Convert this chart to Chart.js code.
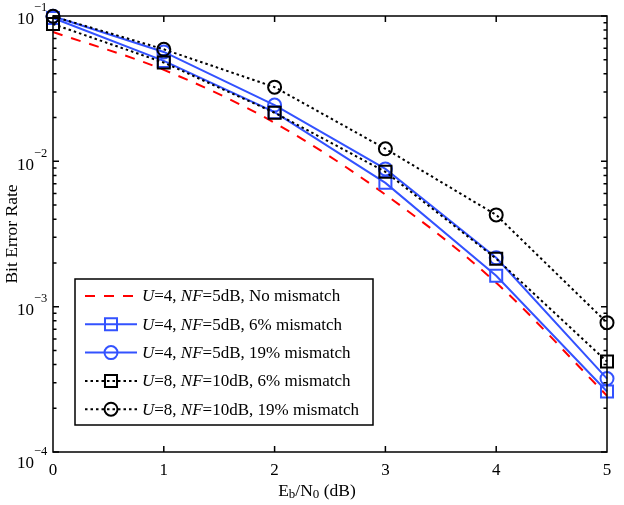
<!DOCTYPE html>
<html>
<head>
<meta charset="utf-8">
<script src="https://cdn.jsdelivr.net/npm/chart.js@4.4.0/dist/chart.umd.min.js"></script>
<style>
   html, body { margin: 0; padding: 0; background: #ffffff; }
   canvas { display: block; }
</style>
</head>
<body>
<canvas id="berChart" width="624" height="505"></canvas>
<script>
const ebN0 = [0, 1, 2, 3, 4, 5];
const xTickValues = [0, 1, 2, 3, 4, 5];
const yTickExponents = [-1, -2, -3, -4];

const berNoMismatch = [0.0776, 0.0426, 0.0184, 0.0059, 0.00146, 0.000244];
const berU4Mismatch6 = [0.0969, 0.0491, 0.0218, 0.00711, 0.00163, 0.000261];
const berU4Mismatch19 = [0.0995, 0.0566, 0.0244, 0.00887, 0.00217, 0.00032];
const berU8Mismatch6 = [0.088, 0.0478, 0.0216, 0.00847, 0.00214, 0.000419];
const berU8Mismatch19 = [0.0995, 0.059, 0.0324, 0.0122, 0.00428, 0.000776];

const seriesLabels = [
   "U=4, NF=5dB, No mismatch",
   "U=4, NF=5dB, 6% mismatch",
   "U=4, NF=5dB, 19% mismatch",
   "U=8, NF=10dB, 6% mismatch",
   "U=8, NF=10dB, 19% mismatch",
];

const SERIF = "'Liberation Serif', 'Times New Roman', serif";
const RED = "#ff0000";
const BLUE = "#3352ff";
const BLACK = "#000000";

function makeDataset(label, values, color, dash, pointStyle, radius, order)
{
   return {
      label: label,
      data: ebN0.map(function(x, i) { return { x: x, y: values[i] }; }),
      borderColor: color,
      borderWidth: 2,
      borderDash: dash,
      pointStyle: pointStyle,
      pointRadius: radius,
      pointBorderWidth: 2,
      pointBorderColor: color,
      pointBackgroundColor: "rgba(0,0,0,0)",
      cubicInterpolationMode: pointStyle ? "default" : "monotone",
      fill: false,
      clip: false,
      order: order,
   };
}

function drawText(ctx, parts, x, y)
{
   // parts: [text, italic, fontSize, dy]
   parts.forEach(function(p)
   {
      ctx.font = (p[1] ? "italic " : "") + p[2] + "px " + SERIF;
      ctx.fillText(p[0], x, y + (p[3] || 0));
      x += ctx.measureText(p[0]).width;
   });
}

function partsWidth(ctx, parts)
{
   let w = 0;
   parts.forEach(function(p)
   {
      ctx.font = (p[1] ? "italic " : "") + p[2] + "px " + SERIF;
      w += ctx.measureText(p[0]).width;
   });
   return w;
}

function labelParts(label, size)
{
   return label.split(/(U|NF)(?==)/).map(function(s, i)
   {
      return [s, i % 2 === 1, size];
   });
}

function drawMarker(ctx, style, radius, x, y)
{
   ctx.beginPath();
   if (style === "rect")
   {
      const h = radius * Math.SQRT1_2;
      ctx.rect(x - h, y - h, 2 * h, 2 * h);
   }
   else
   {
      ctx.arc(x, y, radius, 0, Math.PI * 2);
   }
   ctx.stroke();
}

const axesPlugin = {
   id: "matlabAxes",
   afterDatasetsDraw(chart)
   {
      const ctx = chart.ctx;
      const area = chart.chartArea;
      const xs = chart.scales.x;
      const ys = chart.scales.y;

      ctx.save();
      ctx.strokeStyle = BLACK;
      ctx.lineWidth = 1.5;
      ctx.setLineDash([]);
      ctx.strokeRect(area.left, area.top, area.right - area.left, area.bottom - area.top);

      ctx.beginPath();
      xTickValues.slice(1, -1).forEach(function(v)
      {
         const px = xs.getPixelForValue(v);
         ctx.moveTo(px, area.bottom);
         ctx.lineTo(px, area.bottom - 6);
         ctx.moveTo(px, area.top);
         ctx.lineTo(px, area.top + 6);
      });
      for (let e = -4; e <= -1; e++)
      {
         for (let m = 1; m <= 9; m++)
         {
            const v = m * Math.pow(10, e);
            if (e === -1 && m > 1) break;
            const len = m === 1 ? 6 : 3.5;
            const py = ys.getPixelForValue(v);
            ctx.moveTo(area.left, py);
            ctx.lineTo(area.left + len, py);
            ctx.moveTo(area.right, py);
            ctx.lineTo(area.right - len, py);
         }
      }
      ctx.stroke();

      ctx.fillStyle = BLACK;
      ctx.textBaseline = "middle";

      ctx.textAlign = "center";
      ctx.font = "17px " + SERIF;
      xTickValues.forEach(function(v)
      {
         ctx.fillText(String(v), xs.getPixelForValue(v), area.bottom + 19);
      });

      yTickExponents.forEach(function(e)
      {
         const py = ys.getPixelForValue(Math.pow(10, e)) + (e === -4 ? 12 : 4);
         ctx.textAlign = "right";
         ctx.font = "17px " + SERIF;
         ctx.fillText("10", 34, py);
         ctx.textAlign = "left";
         ctx.font = "12.5px " + SERIF;
         ctx.fillText("\u2212" + Math.abs(e), 34, py - 12);
      });

      ctx.textAlign = "left";
      const xTitle = [["E", false, 17.5], ["b", false, 13, 4], ["/N", false, 17.5], ["0", false, 13, 4], [" (dB)", false, 17.5]];
      const tw = partsWidth(ctx, xTitle);
      drawText(ctx, xTitle, 317 - tw / 2, area.bottom + 39);

      ctx.save();
      ctx.translate(12, (area.top + area.bottom) / 2);
      ctx.rotate(-Math.PI / 2);
      ctx.textAlign = "center";
      ctx.font = "17.5px " + SERIF;
      ctx.fillText("Bit Error Rate", 0, 0);
      ctx.restore();

      const box = { left: 75, top: 279, right: 373, bottom: 425 };
      ctx.fillStyle = "#ffffff";
      ctx.fillRect(box.left, box.top, box.right - box.left, box.bottom - box.top);
      ctx.strokeRect(box.left, box.top, box.right - box.left, box.bottom - box.top);

      chart.data.datasets.forEach(function(ds, i)
      {
         const ly = 296 + i * 28.3;
         ctx.save();
         ctx.strokeStyle = ds.borderColor;
         ctx.lineWidth = ds.borderWidth;
         ctx.setLineDash(ds.borderDash || []);
         ctx.beginPath();
         ctx.moveTo(85, ly);
         ctx.lineTo(137, ly);
         ctx.stroke();
         ctx.setLineDash([]);
         if (ds.pointRadius > 0)
         {
            drawMarker(ctx, ds.pointStyle, ds.pointRadius, 111, ly);
         }
         ctx.restore();
         ctx.fillStyle = BLACK;
         ctx.textAlign = "left";
         drawText(ctx, labelParts(ds.label, 17), 142, ly + 1);
      });

      ctx.restore();
   },
};

const chart = new Chart(document.getElementById("berChart").getContext("2d"),
{
   type: "line",
   data: {
      datasets: [
         makeDataset(seriesLabels[0], berNoMismatch, RED, [10, 9], false, 0, 5),
         makeDataset(seriesLabels[1], berU4Mismatch6, BLUE, [], "rect", 8.5, 4),
         makeDataset(seriesLabels[2], berU4Mismatch19, BLUE, [], "circle", 6.5, 3),
         makeDataset(seriesLabels[3], berU8Mismatch6, BLACK, [2.5, 3], "rect", 8.5, 2),
         makeDataset(seriesLabels[4], berU8Mismatch19, BLACK, [2.5, 3], "circle", 6.5, 1),
      ],
   },
   options: {
      responsive: false,
      animation: false,
      devicePixelRatio: 1,
      layout: { padding: { left: 53, right: 17, top: 16, bottom: 53 } },
      plugins: {
         legend: { display: false },
         tooltip: { enabled: false },
      },
      scales: {
         x: {
            type: "linear",
            min: 0,
            max: 5,
            grid: { display: false },
            border: { display: false },
            ticks: { display: false },
            afterFit: function(scale) { scale.height = 0; },
         },
         y: {
            type: "logarithmic",
            min: 1e-4,
            max: 1e-1,
            grid: { display: false },
            border: { display: false },
            ticks: { display: false },
            afterFit: function(scale) { scale.width = 0; },
         },
      },
   },
   plugins: [axesPlugin],
});
</script>
</body>
</html>
